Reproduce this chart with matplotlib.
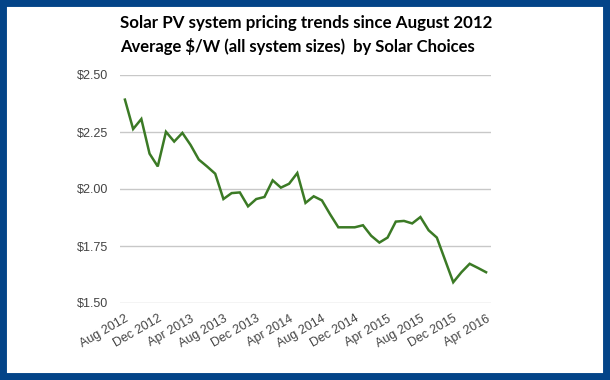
import matplotlib
matplotlib.use("Agg")
import matplotlib.pyplot as plt
from matplotlib.patches import Rectangle

months = ["Aug 2012", "Sep 2012", "Oct 2012", "Nov 2012", "Dec 2012",
          "Jan 2013", "Feb 2013", "Mar 2013", "Apr 2013", "May 2013", "Jun 2013", "Jul 2013",
          "Aug 2013", "Sep 2013", "Oct 2013", "Nov 2013", "Dec 2013",
          "Jan 2014", "Feb 2014", "Mar 2014", "Apr 2014", "May 2014", "Jun 2014", "Jul 2014",
          "Aug 2014", "Sep 2014", "Oct 2014", "Nov 2014", "Dec 2014",
          "Jan 2015", "Feb 2015", "Mar 2015", "Apr 2015", "May 2015", "Jun 2015", "Jul 2015",
          "Aug 2015", "Sep 2015", "Oct 2015", "Nov 2015", "Dec 2015",
          "Jan 2016", "Feb 2016", "Mar 2016", "Apr 2016"]
price = [2.392, 2.263, 2.307, 2.155, 2.099,
         2.251, 2.208, 2.246, 2.193, 2.129, 2.099, 2.067,
         1.956, 1.982, 1.985, 1.924, 1.956,
         1.965, 2.038, 2.006, 2.023, 2.070, 1.939, 1.968,
         1.950, 1.889, 1.832, 1.832, 1.832,
         1.841, 1.795, 1.765, 1.787, 1.857, 1.860, 1.849,
         1.877, 1.819, 1.787, 1.689, 1.591,
         1.635, 1.672, 1.654, 1.635]
tick_labels = ["Aug 2012", "Dec 2012", "Apr 2013", "Aug 2013", "Dec 2013", "Apr 2014",
               "Aug 2014", "Dec 2014", "Apr 2015", "Aug 2015", "Dec 2015", "Apr 2016"]
y_ticks = [1.50, 1.75, 2.00, 2.25, 2.50]
y_tick_labels = ["$1.50", "$1.75", "$2.00", "$2.25", "$2.50"]
title1 = "Solar PV system pricing trends since August 2012"
title2 = "Average $/W (all system sizes)  by Solar Choices"

W, H = 610, 380
fig = plt.figure(figsize=(W / 100, H / 100), dpi=100)
fig.patch.set_facecolor("white")

# blue frame
border = "#034488"
fig.patches.append(Rectangle((0, 0), 1, 1, transform=fig.transFigure,
                             facecolor="none", edgecolor=border, linewidth=10, zorder=10))

ax = fig.add_axes([120 / W, 1 - 303 / H, (491 - 120) / W, (303 - 75) / H])
x = list(range(len(months)))
ax.plot(x, price, color="#3b7a25", linewidth=1.8, solid_joinstyle="miter")
ax.set_xlim(-0.6, len(months) - 1 + 0.6)
ax.set_ylim(1.50, 2.50)
ax.set_yticks(y_ticks)
ax.set_yticklabels(y_tick_labels)
ax.yaxis.grid(True, color="#c8c8c8", linewidth=1)
ax.set_axisbelow(True)
tick_pos = [months.index(t) for t in tick_labels]
ax.set_xticks(tick_pos)
ax.set_xticklabels(tick_labels, rotation=30, ha="right", rotation_mode="anchor")
for s in ax.spines.values():
    s.set_visible(False)
ax.tick_params(axis="both", length=0, labelcolor="#444444", labelsize=9)
ax.tick_params(axis="y", pad=8.5)
ax.tick_params(axis="x", pad=7)
for lab in ax.get_xticklabels() + ax.get_yticklabels():
    lab.set_family("Liberation Sans")

fig.text(120 / W, 1 - 28 / H, title1, fontsize=12.2, fontweight="bold",
         family="Lato", ha="left", va="baseline", color="black")
fig.text(120 / W, 1 - 52 / H, title2, fontsize=12.0, fontweight="bold",
         family="Lato", ha="left", va="baseline", color="black")

fig.savefig("out.png", dpi=100, facecolor="white")
